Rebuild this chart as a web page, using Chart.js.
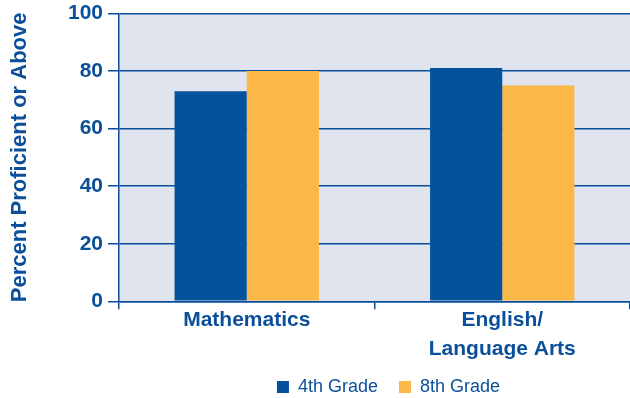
<!DOCTYPE html>
<html>
<head>
<meta charset="utf-8">
<script src="https://cdn.jsdelivr.net/npm/chart.js@4"></script>
<style>
  html, body { margin: 0; padding: 0; background: #ffffff; overflow: hidden; }
  #wrap { width: 630px; height: 398px; position: relative; }
</style>
</head>
<body>
<div id="wrap"><canvas id="proficiencyChart"></canvas></div>
<script>
const subjects = ["Mathematics", ["English/", "Language Arts"]];
const grade4 = [73, 81];
const grade8 = [80, 75];
const seriesNames = ["4th Grade", "8th Grade"];

const navy = "#0b4f9a";
const blueBar = "#03529b";
const goldBar = "#fcb947";
const plotFill = "#dfe4ef";

// light panel behind the bars
const plotBackground = {
  id: "plotBackground",
  beforeDraw(chart) {
    const { ctx, chartArea } = chart;
    ctx.save();
    ctx.fillStyle = plotFill;
    ctx.fillRect(chartArea.left, chartArea.top, chartArea.right - chartArea.left, chartArea.bottom - chartArea.top);
    ctx.restore();
  }
};

// small shift of the legend box after layout
const legendNudge = {
  id: "legendNudge",
  afterLayout(chart) {
    const lg = chart.legend;
    if (lg) {
      lg.left += 14;
      lg.right += 14;
      lg.top -= 3;
      lg.bottom -= 3;
    }
  }
};

new Chart(document.getElementById("proficiencyChart"), {
  type: "bar",
  data: {
    labels: subjects,
    datasets: [
      {
        label: seriesNames[0],
        data: grade4,
        backgroundColor: blueBar,
        borderWidth: 0
      },
      {
        label: seriesNames[1],
        data: grade8,
        backgroundColor: goldBar,
        borderWidth: 0
      }
    ]
  },
  options: {
    responsive: true,
    maintainAspectRatio: false,
    animation: false,
    layout: {
      padding: { top: 13, right: 0, bottom: -11, left: 0 }
    },
    datasets: {
      bar: {
        categoryPercentage: 0.565,
        barPercentage: 1
      }
    },
    plugins: {
      legend: {
        position: "bottom",
        fullSize: false,
        labels: {
          boxWidth: 12,
          boxHeight: 12,
          padding: 21,
          color: navy,
          font: { family: "'Liberation Sans', Arial, sans-serif", size: 18 }
        }
      },
      tooltip: { enabled: false }
    },
    scales: {
      x: {
        grid: {
          display: true,
          drawOnChartArea: false,
          drawTicks: true,
          tickLength: 8,
          color: navy,
          lineWidth: 1.5
        },
        border: { display: true, color: navy, width: 1.5 },
        ticks: {
          color: navy,
          padding: -3,
          font: { family: "'Liberation Sans', Arial, sans-serif", size: 21, weight: "bold", lineHeight: 1.35 }
        }
      },
      y: {
        min: 0,
        max: 100,
        afterFit(scale) {
          scale.width = 119;
        },
        ticks: {
          stepSize: 20,
          color: navy,
          padding: 5,
          font: { family: "'Liberation Sans', Arial, sans-serif", size: 21, weight: "bold", lineHeight: 0.8 }
        },
        grid: {
          color: navy,
          lineWidth: 1.5,
          tickLength: 11
        },
        border: { display: true, color: navy, width: 1.5 },
        title: {
          display: true,
          text: "Percent Proficient or Above",
          color: navy,
          padding: { top: 7, bottom: 0 },
          font: { family: "'Liberation Sans', Arial, sans-serif", size: 22, weight: "bold" }
        }
      }
    }
  },
  plugins: [plotBackground, legendNudge]
});
</script>
</body>
</html>
